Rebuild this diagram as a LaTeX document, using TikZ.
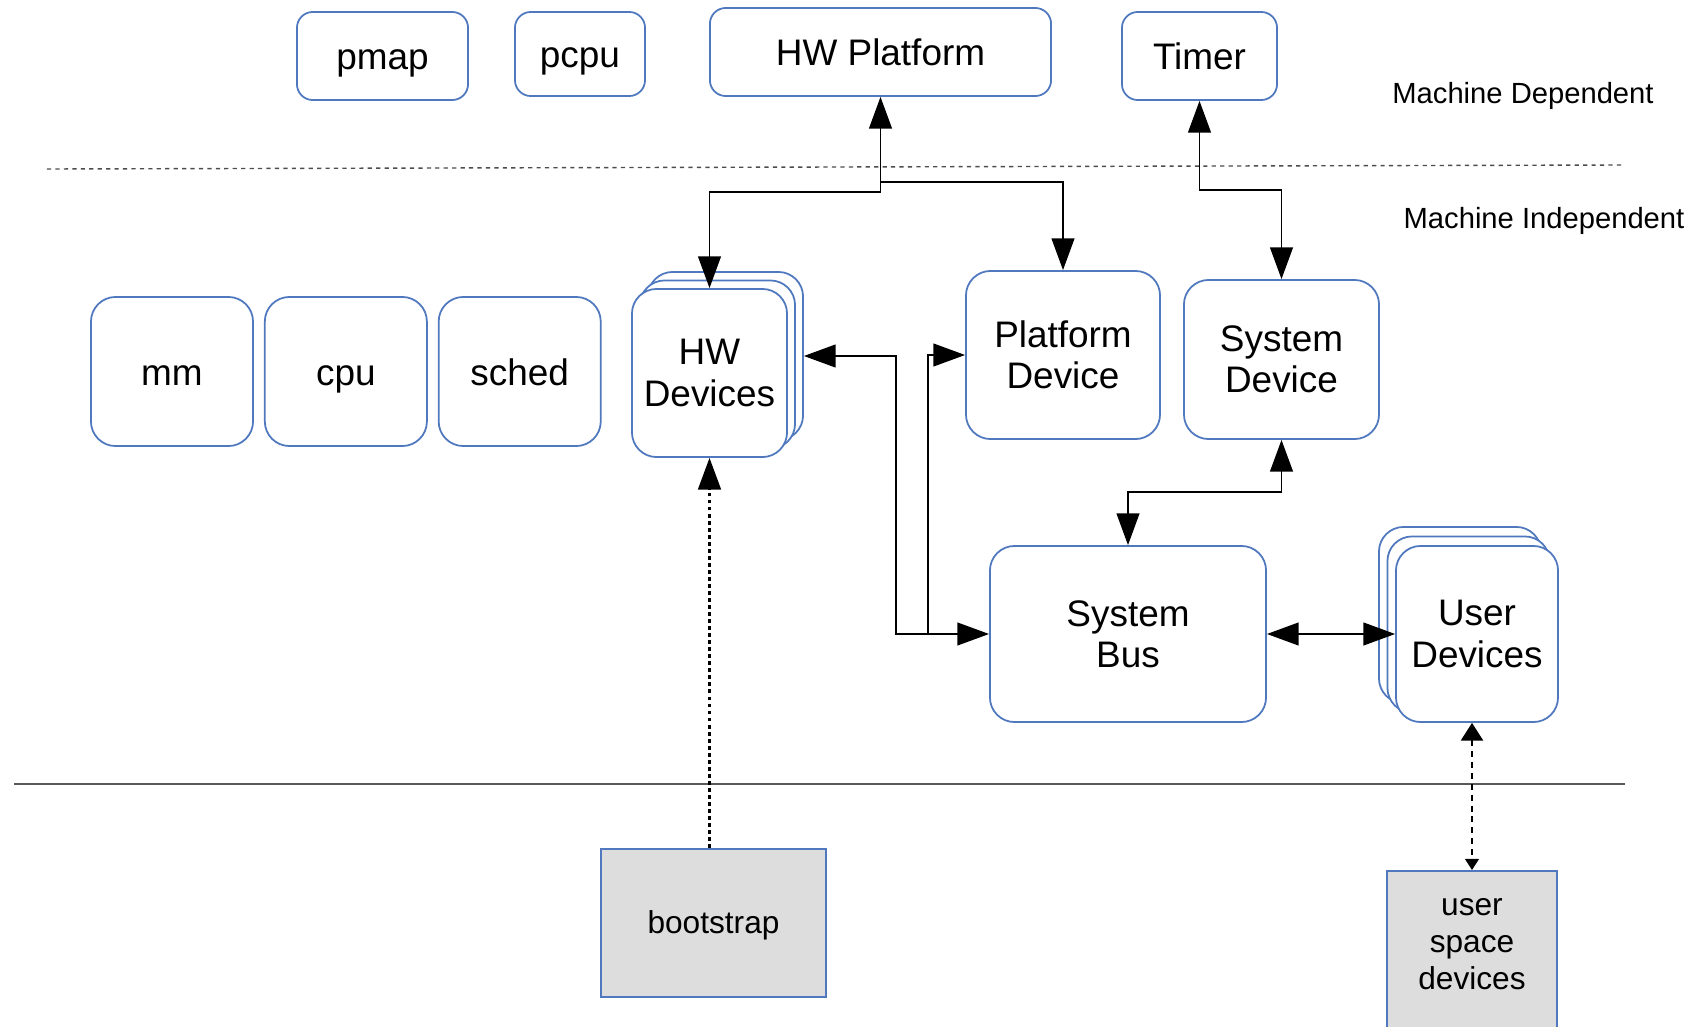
\documentclass[tikz,border=0pt]{standalone}
\usepackage{fontspec}
\setmainfont{Liberation Sans}
\usetikzlibrary{arrows.meta, positioning, calc}
\definecolor{boxblue}{RGB}{79,120,190}
\definecolor{bootgray}{RGB}{221,221,221}

\begin{document}
\begin{tikzpicture}[
    x=0.01cm, y=-0.01cm,
    every node/.style={font=\fontsize{10.5}{11.7}\selectfont, inner sep=0pt},
    box/.style={rectangle, draw=boxblue, fill=white, align=center,
                rounded corners=7pt, line width=0.5pt},
    oneline/.style={text height=8.8pt, text depth=1pt},
    topbox/.style={box, oneline, rounded corners=4.5pt, minimum height=0.88cm},
    bigbox/.style={box, oneline, minimum width=1.62cm, minimum height=1.49cm},
    greybox/.style={rectangle, draw=boxblue, fill=bootgray, align=center,
                line width=0.5pt, font=\fontsize{9}{10.4}\selectfont},
    level/.style={font=\fontsize{8.3}{10}\selectfont},
    arrow/.style={-{Triangle[length=9pt, width=6.5pt]}, line width=0.4pt},
    dblarrow/.style={{Triangle[length=9pt, width=6.5pt]}-{Triangle[length=9pt, width=6.5pt]}, line width=0.4pt},
    dotarrow/.style={arrow, line width=0.6pt, dash pattern=on 1.1pt off 0.9pt},
    dasharrows/.style={{Triangle[length=5pt, width=6.3pt]}-{Triangle[length=3.2pt, width=4pt]},
                line width=0.4pt, dash pattern=on 1.7pt off 1.4pt}
]
\useasboundingbox (0,0) rectangle (1702,1027);
\clip (0,0) rectangle (1702,1027);
% Machine dependent
\node[topbox, minimum width=1.71cm] (pmap) at (382.5,56) {pmap};
\node[topbox, minimum width=1.30cm, minimum height=0.84cm] (pcpu) at (580,54) {pcpu};
\node[topbox, minimum width=3.41cm] (hwplat) at (880.5,52) {HW Platform};
\node[topbox, minimum width=1.55cm] (timer) at (1199.5,56) {Timer};
\node[level] (mdep) at (1523,96) {Machine Dependent};
% Separators
\draw[gray!60!black, line width=0.4pt, dash pattern=on 1.2pt off 1.2pt] (47,169) -- (1623,165);
\draw[gray!70!black, line width=0.5pt] (14,784) -- (1625,784);
\node[level] (mindep) at (1544,221) {Machine Independent};
% Machine independent
\node[bigbox] (mm) at (172,371.5) {mm};
\node[bigbox, right=0.1cm of mm] (cpu) {cpu};
\node[bigbox, right=0.1cm of cpu] (sched) {sched};
\node[box, minimum width=1.55cm, minimum height=1.68cm] (hwdevC) at (725.5,356) {};
\node[box, minimum width=1.55cm, minimum height=1.68cm] (hwdevB) at (717.5,364.5) {};
\node[box, minimum width=1.55cm, minimum height=1.68cm] (hwdev) at (709.5,373) {HW\\Devices};
\node[box, minimum width=1.94cm, minimum height=1.68cm] (platdev) at (1063,355) {Platform\\Device};
\node[box, minimum width=1.95cm, minimum height=1.59cm] (sysdev) at (1281.5,359.5) {System\\Device};
\node[box, minimum width=2.76cm, minimum height=1.76cm] (sysbus) at (1128,634) {System\\Bus};
\node[box, minimum width=1.62cm, minimum height=1.76cm] (udevC) at (1460,615) {};
\node[box, minimum width=1.62cm, minimum height=1.76cm] (udevB) at (1468.5,624.5) {};
\node[box, minimum width=1.62cm, minimum height=1.76cm] (udev) at (1477,634) {User\\Devices};
% Outside the kernel
\node[greybox, minimum width=2.25cm, minimum height=1.48cm, text height=7.4pt, text depth=1.5pt] (bootstrap) at (713.5,923) {bootstrap};
\node[greybox, minimum width=1.70cm, anchor=north, text height=33.6pt, text depth=17pt] (usd) at (1472,870) {user\\space\\devices};
% Junctions
\coordinate (hwjoin) at (0,192);
\coordinate (platjoin) at (0,182);
\coordinate (timerjoin) at (0,190);
\coordinate (sysjoin) at (0,492);
\coordinate (hwbusX) at (896,0);
\coordinate (platbusX) at (928,0);
% Connectors
\draw[dblarrow] (hwplat.south) -- (hwplat.south |- hwjoin) -| (hwdev.north);
\draw[arrow] (hwplat.south |- platjoin) -| (platdev.north);
\draw[dblarrow] (timer.south) -- (timer.south |- timerjoin) -| (sysdev.north);
\draw[dblarrow] (sysdev.south) -- (sysdev.south |- sysjoin) -| (sysbus.north);
\draw[dblarrow] (hwdevC.east) -| (hwbusX |- sysbus.west) -- (sysbus.west);
\draw[arrow] (platbusX |- sysbus.west) |- (platdev.west);
\draw[dblarrow] (sysbus.east) -- (udev.west);
\draw[dotarrow] (hwdev.south |- bootstrap.north) -- (hwdev.south);
\draw[dasharrows] (usd.north |- udev.south) -- (usd.north);
\end{tikzpicture}
\end{document}
